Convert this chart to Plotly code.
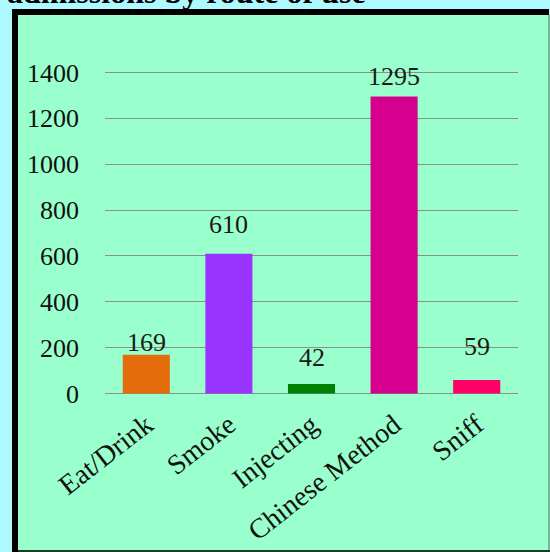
import plotly.graph_objects as go

categories = ["Eat/Drink", "Smoke", "Injecting", "Chinese Method", "Sniff"]
admissions = [169, 610, 42, 1295, 59]
bar_colors = ["#E46C0A", "#9933FF", "#008000", "#D6008F", "#FF0066"]
y_ticks = [0, 200, 400, 600, 800, 1000, 1200, 1400]
title_text = "admissions by route of use"

# style: pixel gap between each bar top and its value label
label_lift = [2, 19, 16, 10, 23]

W, H = 550, 552
L, R, T, B = 105, 32, 69, 155
PW, PH = W - L - R, H - T - B


def px(x):
    return (x - L) / PW


def py(y):
    return (H - B - y) / PH


SERIF = "Liberation Serif, Times New Roman, serif"

fig = go.Figure()
fig.add_trace(go.Bar(
    x=categories, y=admissions,
    marker=dict(color=bar_colors, line=dict(width=0)),
    hoverinfo="x+y",
))

for c, v, lift in zip(categories, admissions, label_lift):
    fig.add_annotation(x=c, y=v, xref="x", yref="y", text=str(v),
                       showarrow=False, yanchor="bottom", yshift=lift - 6,
                       font=dict(family=SERIF, size=26, color="#1a1a1a"))

shapes = [
    dict(type="rect", xref="paper", yref="paper", x0=px(12), x1=px(549), y0=py(551), y1=py(9),
         fillcolor="#99FFCC", line=dict(width=0), layer="below"),
    dict(type="rect", xref="paper", yref="paper", x0=px(12), x1=px(549), y0=py(15), y1=py(9),
         fillcolor="#000000", line=dict(width=0), layer="below"),
    dict(type="rect", xref="paper", yref="paper", x0=px(12), x1=px(18), y0=py(553), y1=py(9),
         fillcolor="#000000", line=dict(width=0), layer="below"),
    dict(type="line", xref="paper", yref="paper", x0=px(549), x1=px(549), y0=py(551), y1=py(15),
         line=dict(color="#6E9A84", width=1.5), layer="below"),
    dict(type="line", xref="paper", yref="paper", x0=px(18), x1=px(550), y0=py(551), y1=py(551),
         line=dict(color="#1A3D2A", width=2), layer="below"),
]

fig.add_annotation(text="<b>" + title_text + "</b>", xref="paper", yref="paper",
                   x=px(5), y=py(12), xanchor="left", yanchor="bottom", showarrow=False,
                   font=dict(family=SERIF, size=32, color="#000000"))

fig.update_layout(
    width=W, height=H,
    margin=dict(l=L, r=R, t=T, b=B, autoexpand=False),
    paper_bgcolor="#AEF8FF",
    plot_bgcolor="rgba(0,0,0,0)",
    shapes=shapes,
    bargap=0.43,
    showlegend=False,
    xaxis=dict(tickangle=-38, showgrid=False, zeroline=False, showline=False,
               ticklabelstandoff=5,
               tickfont=dict(family=SERIF, size=28, color="#111111"), ticks=""),
    yaxis=dict(range=[-15, 1415], tickvals=y_ticks, showgrid=True, gridcolor="#8E8E8E",
               gridwidth=1, zeroline=True, zerolinecolor="#8E8E8E", zerolinewidth=1,
               showline=False, ticks="",
               ticklabelstandoff=25,
               tickfont=dict(family=SERIF, size=26, color="#111111")),
)

fig.write_html("out.html")
